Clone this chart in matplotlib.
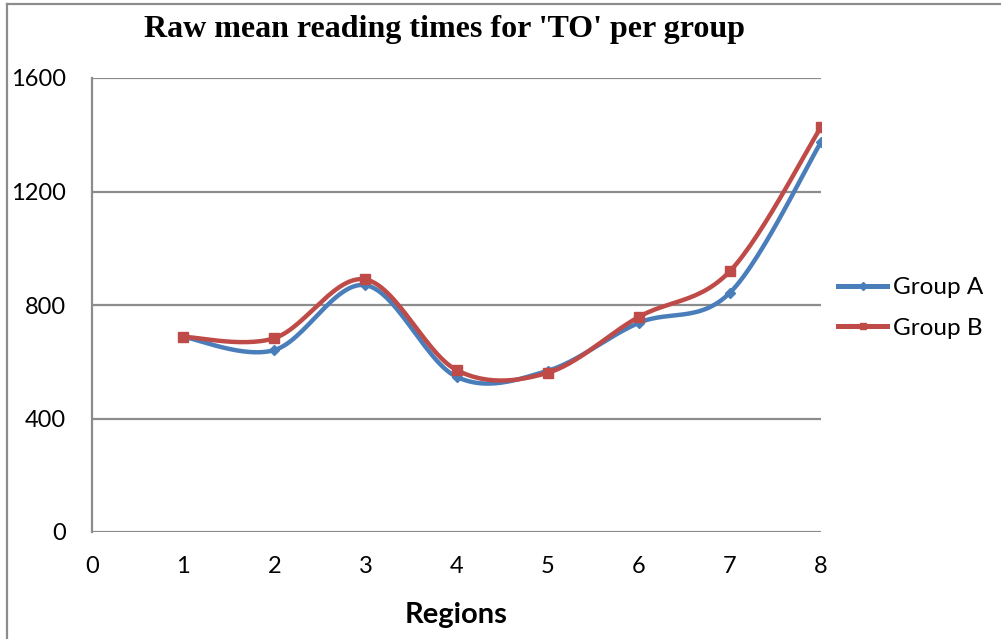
import numpy as np
import matplotlib
matplotlib.use("Agg")
import matplotlib.pyplot as plt
from matplotlib.lines import Line2D

regions = [1, 2, 3, 4, 5, 6, 7, 8]
group_a = [688, 641, 870, 547, 568, 737, 843, 1374]
group_b = [688, 683, 890, 571, 561, 758, 919, 1427]
series_names = ["Group A", "Group B"]
colors = ["#4A7EBB", "#BE4B48"]
markers = ["D", "s"]

def smooth(x, y, n=30):
    x = np.asarray(x, float); y = np.asarray(y, float)
    px = np.concatenate([[x[0]], x, [x[-1]]])
    py = np.concatenate([[y[0]], y, [y[-1]]])
    xs, ys = [], []
    t = np.linspace(0, 1, n)
    for i in range(1, len(px) - 2):
        p0, p1, p2, p3 = [np.array([px[j], py[j]]) for j in (i - 1, i, i + 1, i + 2)]
        c1 = p1 + (p2 - p0) / 6.0
        c2 = p2 - (p3 - p1) / 6.0
        b = ((1 - t) ** 3)[:, None] * p1 + (3 * (1 - t) ** 2 * t)[:, None] * c1 + \
            (3 * (1 - t) * t ** 2)[:, None] * c2 + (t ** 3)[:, None] * p2
        xs.append(b[:, 0]); ys.append(b[:, 1])
    return np.concatenate(xs), np.concatenate(ys)

fig = plt.figure(figsize=(10.01, 6.39), dpi=100)
ax = fig.add_axes([92 / 1001, 1 - 532 / 639, (821 - 92) / 1001, (532 - 78) / 639])

for vals, name, c, m in zip([group_a, group_b], series_names, colors, markers):
    sx, sy = smooth(regions, vals)
    ax.plot(sx, sy, color=c, lw=3.2, solid_capstyle="round", zorder=3)
    ax.plot(regions, vals, linestyle="none", marker=m, color=c,
            markersize=5 if m == "D" else 6.5, zorder=4)

ax.set_xlim(0, 8)
ax.set_ylim(0, 1600)
ax.set_xticks(range(0, 9))
ax.set_yticks([0, 400, 800, 1200, 1600])
ax.yaxis.grid(True, color="#8C8C8C", lw=1.6)
ax.set_axisbelow(True)
for s in ["top", "right", "bottom"]:
    ax.spines[s].set_visible(False)
ax.spines["left"].set_color("#8C8C8C")
ax.spines["left"].set_linewidth(1.6)
ax.tick_params(length=0, labelsize=17)
ax.tick_params(axis="x", pad=17)
ax.tick_params(axis="y", pad=19)
for lab in ax.get_xticklabels() + ax.get_yticklabels():
    lab.set_fontfamily("Lato")
ax.set_xlabel("Regions", fontsize=21, fontweight="bold", fontfamily="Lato", labelpad=18)

fig.text(445 / 1001, 1 - 30 / 639, "Raw mean reading times for 'TO' per group",
         ha="center", va="center", fontsize=23, fontweight="bold", fontfamily="Liberation Serif")

handles = [Line2D([], [], color=c, lw=3.6, marker=m, markersize=4) for c, m in zip(colors, markers)]
fig.legend(handles, series_names, loc="center left", bbox_to_anchor=(831 / 1001, 1 - 308 / 639),
           frameon=False, prop={"family": "Lato", "size": 17.5}, handlelength=2.0,
           handletextpad=0.25, labelspacing=0.8, borderaxespad=0, borderpad=0.3)

fig.add_artist(Line2D([7 / 1001, 7 / 1001], [0, 1 - 4 / 639], color="#8C8C8C", lw=1.6))
fig.add_artist(Line2D([7 / 1001, 1], [1 - 4 / 639, 1 - 4 / 639], color="#8C8C8C", lw=1.6))

fig.savefig("out.png", dpi=100)
